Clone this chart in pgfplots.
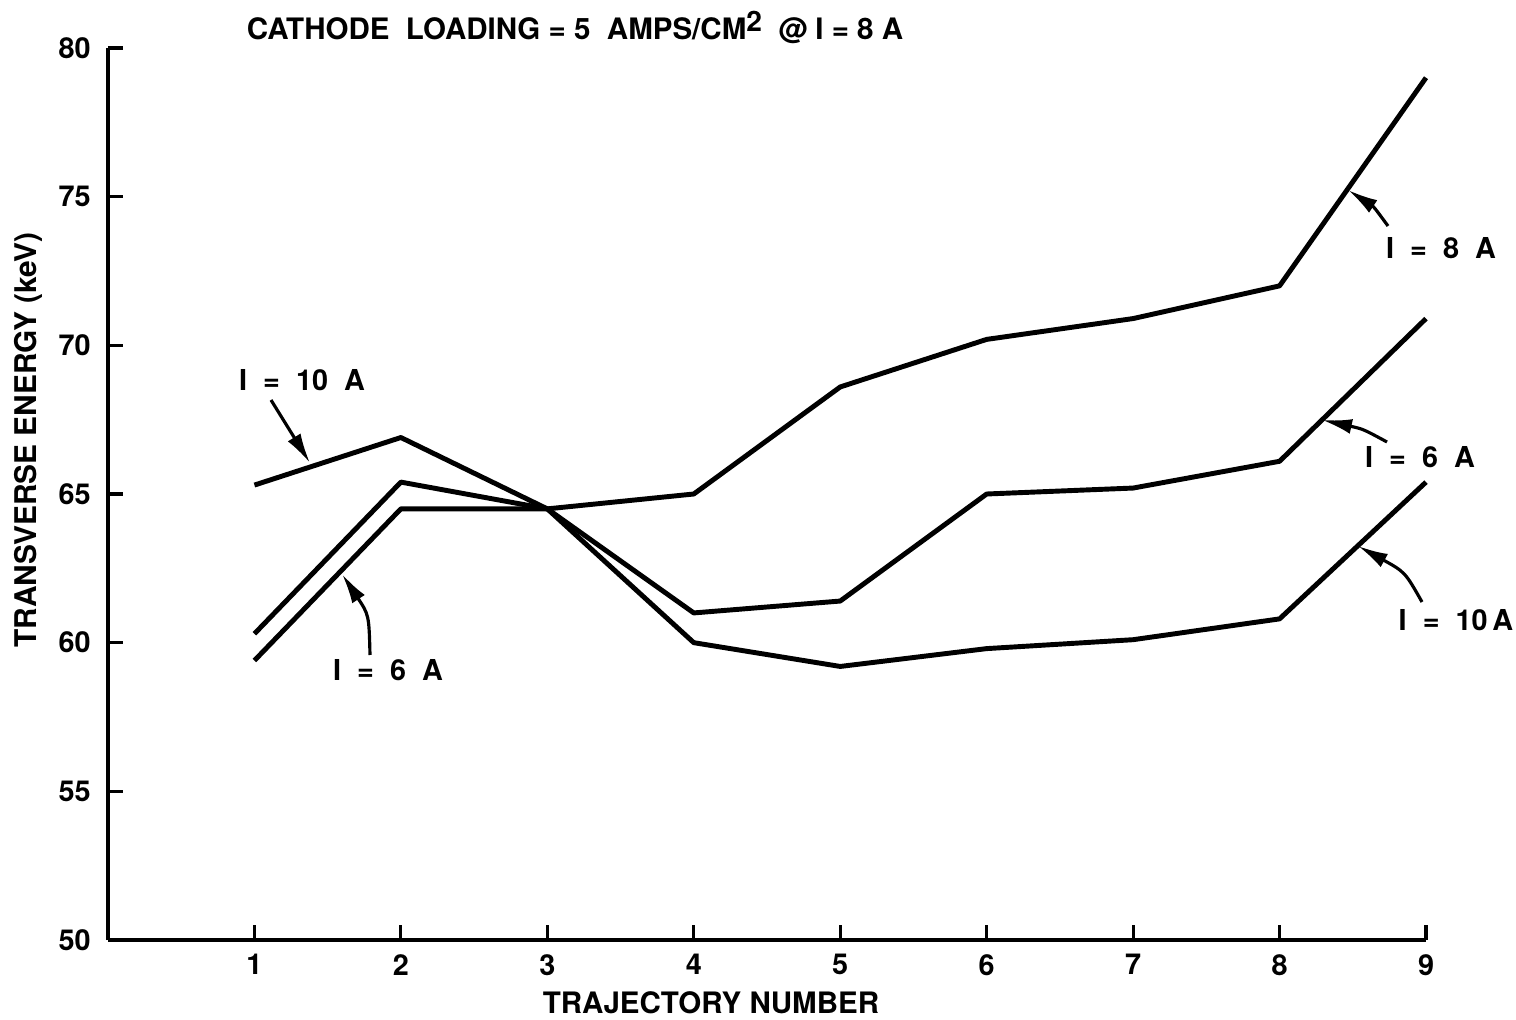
\documentclass[border=0pt]{standalone}
\usepackage{fontspec}
\setmainfont{TeX Gyre Heros}
\usepackage{pgfplots}
\pgfplotsset{compat=1.18}
\usetikzlibrary{arrows.meta}

\pgfplotstableread{
x   y
1   65.3
2   66.9
3   64.5
4   60.0
5   59.2
6   59.8
7   60.1
8   60.8
9   65.4
}\tenamp
\pgfplotstableread{
x   y
1   60.3
2   65.4
3   64.5
4   65.0
5   68.6
6   70.2
7   70.9
8   72.0
9   79.0
}\eightamp
\pgfplotstableread{
x   y
1   59.4
2   64.5
3   64.5
4   61.0
5   61.4
6   65.0
7   65.2
8   66.1
9   70.9
}\sixamp

\begin{document}
\begin{tikzpicture}[font=\fontsize{8.2}{9.8}\selectfont\bfseries]
\begin{axis}[
  scale only axis, width=13.18cm, height=8.92cm,
  xmin=0, xmax=9, ymin=50, ymax=80,
  axis x line*=bottom, axis y line*=left,
  axis line style={line width=1.1pt},
  xtick={1,...,9}, ytick={50,55,...,80},
  tick align=inside, major tick length=0.15cm,
  tick style={line width=0.9pt, black},
  /pgf/number format/assume math mode=true,
  ticklabel style={font=\fontsize{8.2}{9.8}\selectfont\bfseries},
  yticklabel style={xshift=-0.05cm},
  xticklabel style={yshift=-0.02cm},
  xlabel={TRAJECTORY NUMBER},
  xlabel style={at={(axis description cs:0.4575,0)}, anchor=center, yshift=-0.63cm, font=\fontsize{8.4}{10}\selectfont\bfseries},
  ylabel={TRANSVERSE ENERGY (keV)},
  ylabel style={at={(axis description cs:-0.0607,0.5605)}, anchor=center, font=\fontsize{8.5}{10}\selectfont\bfseries},
  clip=false,
]
\addplot[black, line width=1.4pt, no markers, line join=round] table[x=x,y=y] {\tenamp};
\addplot[black, line width=1.4pt, no markers, line join=round] table[x=x,y=y] {\eightamp};
\addplot[black, line width=1.4pt, no markers, line join=round] table[x=x,y=y] {\sixamp};
\end{axis}
% title and annotations (1 px = 0.01 cm, origin at axis corner)
\node[anchor=base, font=\fontsize{8.4}{10}\selectfont\bfseries] at (4.67,9.00)
  {CATHODE\ \ LOADING\ =\ 5\ \ AMPS/CM\raisebox{0.55ex}{\fontsize{8}{8}\selectfont 2}\ \ @\ I\ =\ 8\ A};
\begin{scope}[line width=0.9pt, -{Latex[length=3mm,width=1.5mm]}]
\node at (1.94,5.60) {I\ \ =\ \ 10\ \ A};
\draw (1.63,5.40) -- (2.02,4.77);
\node at (2.80,2.70) {I\ \ =\ \ 6\ \ A};
\draw (2.62,2.85) .. controls (2.61,3.25) .. (2.34,3.66);
\node at (13.33,6.92) {I\ \ =\ \ 8\ \ A};
\draw (12.80,7.14) .. controls (12.66,7.33) .. (12.40,7.50);
\node at (13.12,4.83) {I\ \ =\ \ 6\ \ A};
\draw (12.79,4.98) .. controls (12.55,5.11) .. (12.14,5.20);
\node at (13.48,3.20) {I\ \ =\ \ 10\,A};
\draw (13.14,3.38) .. controls (12.97,3.68) .. (12.50,3.94);
\end{scope}
\pgfresetboundingbox
\path (-1.08,-0.79) rectangle (14.08,9.40);
\end{tikzpicture}
\end{document}
